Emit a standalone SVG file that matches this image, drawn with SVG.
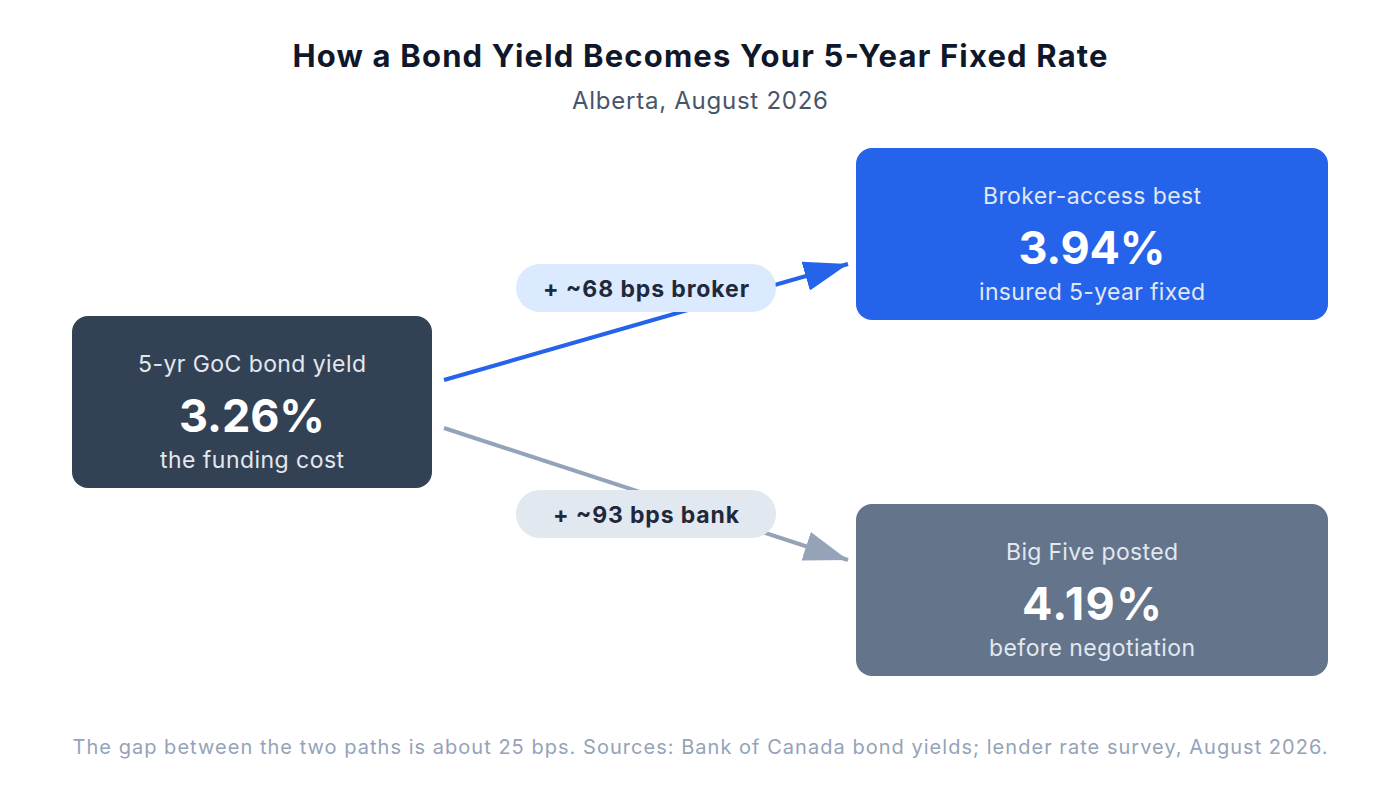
<svg xmlns="http://www.w3.org/2000/svg" width="1400" height="800" viewBox="0 0 1400 800">
<style>
text{font-family:Inter,"Noto Sans","Liberation Sans",sans-serif;text-anchor:middle}
.title{font-size:31px;font-weight:700;fill:#0f172a}
.sub{font-size:24px;fill:#475569}
.lbl{font-size:23px;fill:#e2e8f0}
.val{font-size:45px;font-weight:700;fill:#ffffff}
.pill{font-size:23px;font-weight:700;fill:#1e293b}
.foot{font-size:20px;fill:#94a3b8}
</style>
<defs>
<marker id="ab" markerUnits="userSpaceOnUse" markerWidth="46" markerHeight="30" refX="44" refY="15" orient="auto"><path d="M0,0 L44,15 L0,30 Z" fill="#2563eb"/></marker>
<marker id="ag" markerUnits="userSpaceOnUse" markerWidth="46" markerHeight="30" refX="44" refY="15" orient="auto"><path d="M0,0 L44,15 L0,30 Z" fill="#94a3b8"/></marker>
</defs>
<rect width="1400" height="800" fill="#ffffff"/>
<text class="title" x="700" y="67" textLength="815" lengthAdjust="spacing">How a Bond Yield Becomes Your 5-Year Fixed Rate</text>
<text class="sub" x="700" y="109" textLength="256" lengthAdjust="spacing">Alberta, August 2026</text>
<g id="connectors">
<line x1="444" y1="380" x2="848" y2="264" stroke="#2563eb" stroke-width="4" marker-end="url(#ab)"/>
<line x1="444" y1="428" x2="848" y2="560" stroke="#94a3b8" stroke-width="4" marker-end="url(#ag)"/>
<g id="label-broker"><rect x="516" y="264" width="260" height="48" rx="24" fill="#dbeafe"/><text class="pill" x="646" y="297" textLength="206" lengthAdjust="spacing">+ ~68 bps broker</text></g>
<g id="label-bank"><rect x="516" y="490" width="260" height="48" rx="24" fill="#e2e8f0"/><text class="pill" x="646" y="523" textLength="186" lengthAdjust="spacing">+ ~93 bps bank</text></g>
</g>
<g id="node-bond">
<rect x="72" y="316" width="360" height="172" rx="16" fill="#334155"/>
<text class="lbl" x="252" y="372" textLength="228" lengthAdjust="spacing">5-yr GoC bond yield</text>
<text class="val" x="252" y="432" textLength="146" lengthAdjust="spacing">3.26%</text>
<text class="lbl" x="252" y="468" textLength="184" lengthAdjust="spacing">the funding cost</text>
</g>
<g id="node-broker">
<rect x="856" y="148" width="472" height="172" rx="16" fill="#2563eb"/>
<text class="lbl" x="1092" y="204" textLength="218" lengthAdjust="spacing">Broker-access best</text>
<text class="val" x="1092" y="264" textLength="147" lengthAdjust="spacing">3.94%</text>
<text class="lbl" x="1092" y="300" textLength="226" lengthAdjust="spacing">insured 5-year fixed</text>
</g>
<g id="node-bank">
<rect x="856" y="504" width="472" height="172" rx="16" fill="#64748b"/>
<text class="lbl" x="1092" y="560" textLength="172" lengthAdjust="spacing">Big Five posted</text>
<text class="val" x="1092" y="620" textLength="140" lengthAdjust="spacing">4.19%</text>
<text class="lbl" x="1092" y="656" textLength="206" lengthAdjust="spacing">before negotiation</text>
</g>
<text class="foot" x="700" y="754" textLength="1255" lengthAdjust="spacing">The gap between the two paths is about 25 bps. Sources: Bank of Canada bond yields; lender rate survey, August 2026.</text>
</svg>
